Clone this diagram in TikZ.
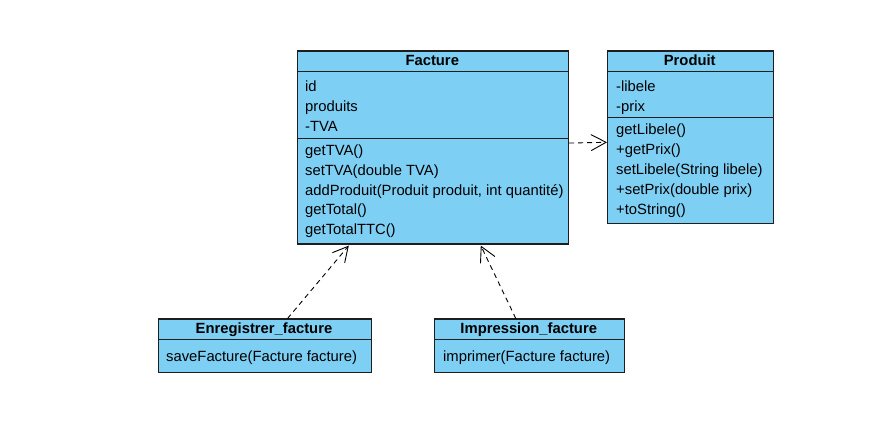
\documentclass[tikz,border=0pt]{standalone}
\usepackage{fontspec}
\setmainfont{Liberation Sans}
\usetikzlibrary{arrows.meta}
\definecolor{boxfill}{RGB}{126,207,244}
\definecolor{boxline}{RGB}{30,30,30}
\tikzset{
  classbox/.style={draw=boxline, fill=boxfill, line width=1.1pt, inner sep=0pt, anchor=north west},
  title/.style={font=\fontsize{14.8}{17}\selectfont\bfseries, inner sep=0pt, text height=11pt, text depth=3pt},
  member/.style={font=\fontsize{14.8}{17}\selectfont, inner sep=0pt, anchor=west, text height=11pt, text depth=3pt},
  sep/.style={draw=boxline, line width=1.1pt},
  dep/.style={draw=black, line width=0.9pt, dash pattern=on 5pt off 4pt, -{Straight Barb[length=15pt, width=16pt, line width=0.9pt]}}
}
\begin{document}
\begin{tikzpicture}[x=1pt,y=-1pt]
\useasboundingbox[fill=white] (0,0) rectangle (891,427);
% Facture
\node[classbox, minimum width=271.5pt, minimum height=193pt] (facture) at (296.5,50.5) {};
\draw[sep] (296.5,71.5) -- (568,71.5);
\draw[sep] (296.5,138.5) -- (568,138.5);
\node[title] (factureT) at (432.25,62) {Facture};
\node[member] (f1) at (305,88) {id};
\node[member] (f2) at (305,107.5) {produits};
\node[member] (f3) at (305,127.5) {-TVA};
\node[member] (f4) at (305,151.5) {getTVA()};
\node[member] (f5) at (305,171.5) {setTVA(double TVA)};
\node[member] (f6) at (305,191.5) {addProduit(Produit produit, int quantité)};
\node[member] (f7) at (305,211) {getTotal()};
\node[member] (f8) at (305,231) {getTotalTTC()};
% Produit
\node[classbox, minimum width=165.5pt, minimum height=172.5pt] (produit) at (607,50.5) {};
\draw[sep] (607,71.5) -- (772.5,71.5);
\draw[sep] (607,117.5) -- (772.5,117.5);
\node[title] (produitT) at (689.75,62) {Produit};
\node[member] (p1) at (616,88) {-libele};
\node[member] (p2) at (616,108) {-prix};
\node[member] (p3) at (616,131) {getLibele()};
\node[member] (p4) at (616,150.5) {+getPrix()};
\node[member] (p5) at (616,170.5) {setLibele(String libele)};
\node[member] (p6) at (616,190.5) {+setPrix(double prix)};
\node[member] (p7) at (616,210.5) {+toString()};
% Enregistrer_facture
\node[classbox, minimum width=213pt, minimum height=53.5pt] (enreg) at (157.5,318.5) {};
\draw[sep] (157.5,339.5) -- (370.5,339.5);
\node[title] (enregT) at (264,330) {Enregistrer\_facture};
\node[member] (e1) at (166,357.5) {saveFacture(Facture facture)};
% Impression_facture
\node[classbox, minimum width=189.5pt, minimum height=53.5pt] (impr) at (434,318.5) {};
\draw[sep] (434,339.5) -- (623.5,339.5);
\node[title] (imprT) at (528.75,330) {Impression\_facture};
\node[member] (i1) at (443,357.5) {imprimer(Facture facture)};
% dependencies
\draw[dep] ([yshift=4.5pt]facture.east) -- ([yshift=-5pt]produit.west);
\draw[dep] ([xshift=23pt]enreg.north) -- ([xshift=-84pt,yshift=-1pt]facture.south);
\draw[dep] ([xshift=-13.5pt]impr.north) -- ([xshift=48pt,yshift=-1pt]facture.south);
\end{tikzpicture}
\end{document}
